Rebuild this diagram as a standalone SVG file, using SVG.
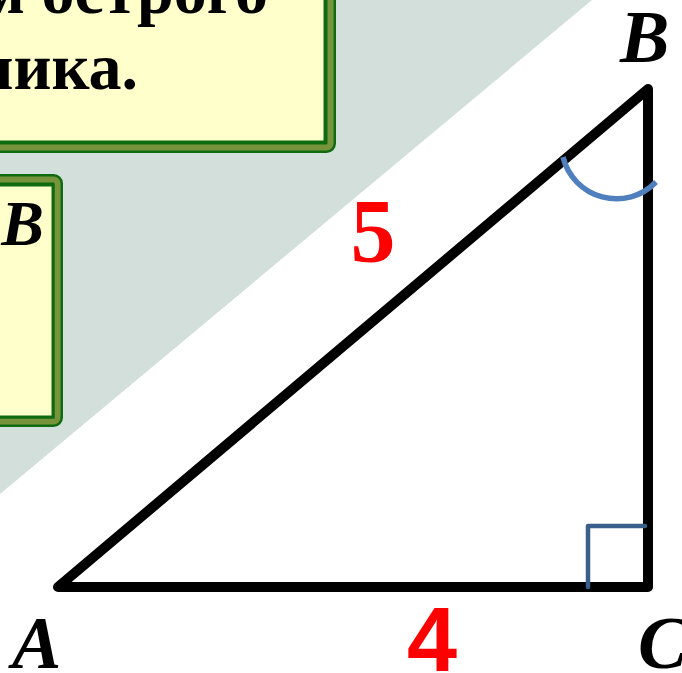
<svg xmlns="http://www.w3.org/2000/svg" width="682" height="673" viewBox="0 0 682 673">
<style>
.box-outer{fill:none;stroke:#0f6b0f;stroke-width:11}
.box-mid{fill:none;stroke:#77933c;stroke-width:6}
.box-in{fill:#ffffcc;stroke:#0f6b0f;stroke-width:3}
.ru{font-family:"Liberation Serif","Times New Roman",serif;font-weight:bold;fill:#000}
.vx{font-family:"Liberation Serif","Times New Roman",serif;font-weight:bold;font-style:italic;fill:#000;font-size:74px}
.side{fill:none;stroke:#000;stroke-width:10;stroke-linejoin:round;stroke-linecap:round}
</style>
<rect x="0" y="0" width="682" height="673" fill="#ffffff"/>
<polygon points="0,0 592,0 0,494" fill="#d2dfdb"/>
<g id="box-title">
<rect class="box-outer" x="-40" y="-40" width="370.5" height="187.5" rx="4"/>
<rect class="box-mid" x="-40" y="-40" width="370.5" height="187.5" rx="4"/>
<rect class="box-in" x="-40" y="-40" width="365" height="182"/>
<text class="ru" font-size="66" x="268" y="13" text-anchor="end">м острого</text>
<text class="ru" font-size="66" x="138" y="89" text-anchor="end">ника.</text>
</g>
<g id="box-ab">
<rect class="box-outer" x="-40" y="179.5" width="97.5" height="242" rx="4"/>
<rect class="box-mid" x="-40" y="179.5" width="97.5" height="242" rx="4"/>
<rect class="box-in" x="-40" y="185" width="93" height="232"/>
<text class="vx" font-size="64" x="44" y="245" text-anchor="end" style="font-size:64px">AB</text>
</g>
<g id="connectors">
<polygon class="side" points="58,587 648,89 648,587"/>
</g>
<g id="angle-marks">
<path d="M563,157 A55,55 0 0 0 656,182" fill="none" stroke="#4f7fbc" stroke-width="5.5"/>
<path d="M588,587 V526 H645" fill="none" stroke="#3a5f8b" stroke-width="4.5" stroke-linecap="round" stroke-linejoin="round"/>
</g>
<g id="vertex-A"><text class="vx" x="12" y="668">A</text></g>
<g id="vertex-B"><text class="vx" x="620" y="62">B</text></g>
<g id="vertex-C"><text class="vx" x="638" y="668">C</text></g>
<g id="label-hyp"><text x="373" y="262" text-anchor="middle" font-family="Liberation Serif, Times New Roman, serif" font-weight="bold" font-size="90" fill="#ff0000">5</text></g>
<g id="label-base"><text x="432" y="671" text-anchor="middle" font-family="Liberation Sans, Arial, sans-serif" font-weight="bold" font-size="90" fill="#ff0000">4</text></g>
</svg>
